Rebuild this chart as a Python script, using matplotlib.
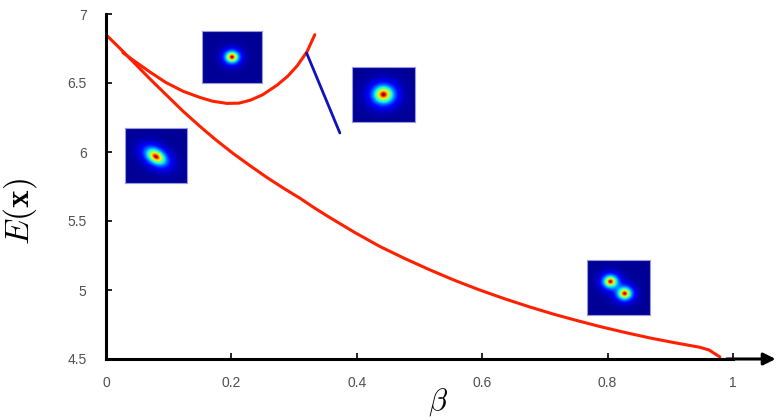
import numpy as np
import matplotlib
matplotlib.use("Agg")
import matplotlib.pyplot as plt

plt.rcParams['font.family'] = ['Liberation Sans', 'DejaVu Sans']
plt.rcParams['mathtext.fontset'] = 'cm'

# Lower branch (elongated / two-blob state)
beta_low = [0.0, 0.022, 0.043, 0.07, 0.097, 0.123, 0.150, 0.176, 0.2026, 0.23, 0.2568,
            0.283, 0.3094, 0.333, 0.357, 0.397, 0.437, 0.477, 0.517, 0.556, 0.596,
            0.636, 0.676, 0.713, 0.75, 0.788, 0.828, 0.868, 0.908, 0.947, 0.962, 0.979]
E_low = [6.85, 6.752, 6.655, 6.53, 6.41, 6.295, 6.185, 6.085, 5.99, 5.90, 5.815,
         5.738, 5.665, 5.593, 5.525, 5.416, 5.315, 5.227, 5.145, 5.07, 5.0,
         4.936, 4.877, 4.826, 4.78, 4.735, 4.692, 4.652, 4.617, 4.585, 4.565, 4.515]
# Upper branch (single round blob)
beta_up = [0.027, 0.045, 0.07, 0.095, 0.123, 0.150, 0.170, 0.193, 0.212, 0.230, 0.25,
           0.273, 0.29, 0.305, 0.3206, 0.333]
E_up = [6.72, 6.66, 6.58, 6.505, 6.44, 6.395, 6.368, 6.352, 6.354, 6.375, 6.415,
        6.485, 6.55, 6.625, 6.727, 6.85]
# Unstable branch
beta_blue = [0.32, 0.373]
E_blue = [6.717, 6.138]

x_ticks = [0, 0.2, 0.4, 0.6, 0.8, 1]
x_ticklabels = ['0', '0.2', '0.4', '0.6', '0.8', '1']
y_ticks = [4.5, 5, 5.5, 6, 6.5, 7]
y_ticklabels = ['4.5', '5', '5.5', '6', '6.5', '7']

# inset boxes in pixels (left, top, width, height)
inset_boxes = [(202, 31, 60, 52), (125, 128, 62, 55), (352, 67, 63, 55), (587, 260, 63, 55)]
# inset blobs: (cx, cy, sx, sy, angle_deg) in relative image coords
inset_blobs = [
    [(0.5, 0.5, 0.09, 0.09, 0)],
    [(0.5, 0.52, 0.15, 0.10, 40)],
    [(0.5, 0.5, 0.13, 0.13, 0)],
    [(0.37, 0.39, 0.09, 0.09, 0), (0.60, 0.61, 0.09, 0.09, 0)],
]

W, H = 778, 420
fig = plt.figure(figsize=(W / 100, H / 100), dpi=100)
ax = fig.add_axes([106 / W, 1 - 359 / H, 627 / W, 345 / H])

ax.plot(beta_low, E_low, color='#ff2000', lw=2.2, solid_capstyle='round', solid_joinstyle='round')
ax.plot(beta_up, E_up, color='#ff2000', lw=2.2, solid_capstyle='round', solid_joinstyle='round')
ax.plot(beta_blue, E_blue, color='#1010c0', lw=2.0, solid_capstyle='round')

ax.set_xlim(0, 1)
ax.set_ylim(4.5, 7)
ax.set_xticks(x_ticks)
ax.set_xticklabels(x_ticklabels)
ax.set_yticks(y_ticks)
ax.set_yticklabels(y_ticklabels)
ax.tick_params(direction='in', length=4, width=1.2, colors='black', labelcolor='#505050',
               labelsize=10)
ax.tick_params(axis='x', pad=12)
ax.tick_params(axis='y', pad=14)
for s in ['top', 'right']:
    ax.spines[s].set_visible(False)
ax.spines['left'].set_linewidth(2.2)
ax.spines['bottom'].set_linewidth(2.2)
ax.annotate('', xy=(1.068, 0), xytext=(0.99, 0), xycoords='axes fraction',
            arrowprops=dict(arrowstyle='-|>', color='black', lw=2.2, mutation_scale=18,
                            shrinkA=0, shrinkB=0), annotation_clip=False)

fig.text(20 / W, 1 - 212 / H, r'$E(\mathbf{x})$', rotation=90, fontsize=24,
         ha='center', va='center')
fig.text(438 / W, 2 / H, r'$\beta$', fontsize=22, ha='center', va='bottom')

n = 64
yy, xx = np.mgrid[0:1:n * 1j, 0:1:n * 1j]
for (px, py, pw, ph), blobs in zip(inset_boxes, inset_blobs):
    img = np.zeros_like(xx)
    for cx, cy, sx, sy, ang in blobs:
        a = np.deg2rad(ang)
        dx, dy = xx - cx, yy - cy
        u = dx * np.cos(a) + dy * np.sin(a)
        v = -dx * np.sin(a) + dy * np.cos(a)
        r = np.sqrt((u / sx) ** 2 + (v / sy) ** 2)
        img += np.exp(-r ** 1.3)
    iax = fig.add_axes([px / W, 1 - (py + ph) / H, pw / W, ph / H])
    iax.imshow(img, cmap='jet', aspect='auto', vmin=-0.02, vmax=img.max(),
               interpolation='bilinear')
    iax.set_xticks([])
    iax.set_yticks([])
    for s in iax.spines.values():
        s.set_color('#9999dd')
        s.set_linewidth(0.8)

fig.savefig('out.png', dpi=100)
